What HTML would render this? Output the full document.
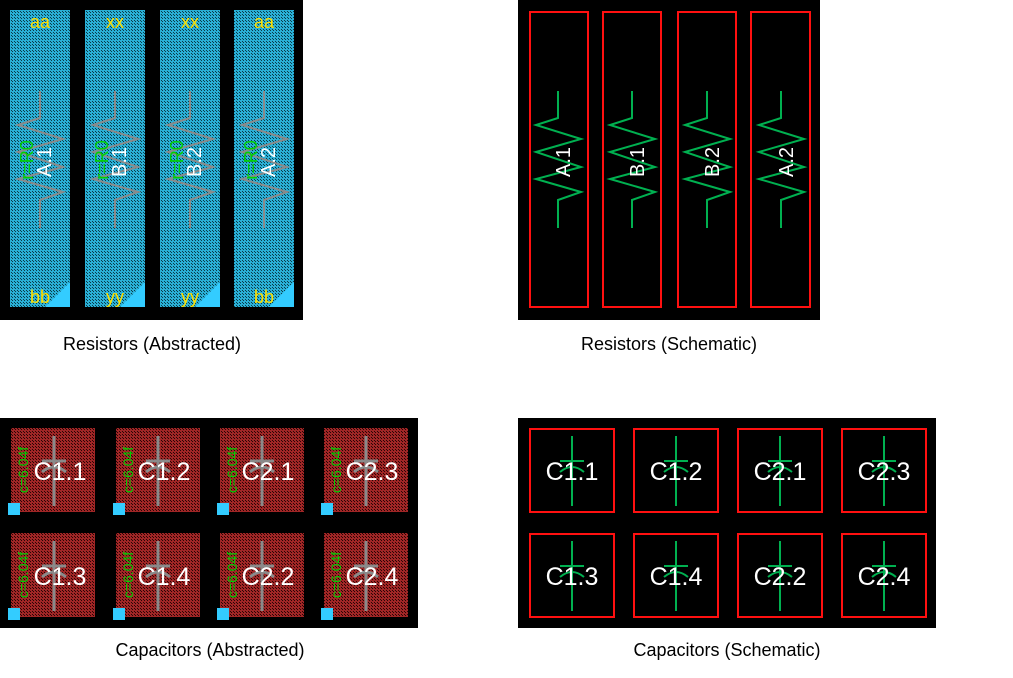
<!DOCTYPE html>
<html><head><meta charset="utf-8"><style>
html,body{margin:0;padding:0;background:#fff;width:1013px;height:678px;overflow:hidden}
svg{display:block}
.lbl{font-family:"Liberation Sans",sans-serif;font-size:18px;fill:#000}
.w{font-family:"Liberation Sans",sans-serif;fill:#fff}
.y{font-family:"Liberation Sans",sans-serif;fill:#ffe000}
.g{font-family:"Liberation Sans",sans-serif;fill:#00d000}
</style></head><body>
<svg width="1013" height="678" viewBox="0 0 1013 678" xmlns="http://www.w3.org/2000/svg">
<defs>
<pattern id="pb" width="3" height="3" patternUnits="userSpaceOnUse"><rect width="3" height="3" fill="#2ab0d6"/><rect width="1" height="1" fill="#0a3c4a"/><rect x="2" y="2" width="1" height="1" fill="#0a3c4a"/></pattern>
<pattern id="pr" width="3" height="3" patternUnits="userSpaceOnUse"><rect width="3" height="3" fill="#a02626"/><rect width="1" height="1" fill="#2a0505"/><rect x="2" y="2" width="1" height="1" fill="#2a0505"/></pattern>
<polyline id="zz" points="0,91 0,118 -22,125 23,139 -22,152 23,167 -22,179 23,192 0,200 0,228" fill="none" stroke-width="2"/>
</defs>
<rect width="1013" height="678" fill="#fff"/>
<!-- Panel 1 -->
<rect x="0" y="0" width="303" height="320" fill="#000"/>
<g>
<rect x="10" y="10" width="60" height="297" fill="url(#pb)"/>
<rect x="85" y="10" width="60" height="297" fill="url(#pb)"/>
<rect x="160" y="10" width="60" height="297" fill="url(#pb)"/>
<rect x="234" y="10" width="60" height="297" fill="url(#pb)"/>
<g stroke="#8a8a8a" stroke-width="3"><use href="#zz" x="40"/><use href="#zz" x="115"/><use href="#zz" x="190"/><use href="#zz" x="264"/></g>
<polygon points="70,282 70,307 45,307" fill="#33ccff"/>
<polygon points="145,282 145,307 120,307" fill="#33ccff"/>
<polygon points="220,282 220,307 195,307" fill="#33ccff"/>
<polygon points="294,282 294,307 269,307" fill="#33ccff"/>
<text class="y" x="40" y="28" font-size="18" text-anchor="middle">aa</text>
<text class="y" x="115" y="28" font-size="18" text-anchor="middle">xx</text>
<text class="y" x="190" y="28" font-size="18" text-anchor="middle">xx</text>
<text class="y" x="264" y="28" font-size="18" text-anchor="middle">aa</text>
<text class="y" x="40" y="303" font-size="18" text-anchor="middle">bb</text>
<text class="y" x="115" y="303" font-size="18" text-anchor="middle">yy</text>
<text class="y" x="190" y="303" font-size="18" text-anchor="middle">yy</text>
<text class="y" x="264" y="303" font-size="18" text-anchor="middle">bb</text>
<text class="g" font-size="18" transform="translate(33,160) rotate(-90)" text-anchor="middle">r=R0</text>
<text class="g" font-size="18" transform="translate(108,160) rotate(-90)" text-anchor="middle">r=R0</text>
<text class="g" font-size="18" transform="translate(183,160) rotate(-90)" text-anchor="middle">r=R0</text>
<text class="g" font-size="18" transform="translate(257,160) rotate(-90)" text-anchor="middle">r=R0</text>
<text class="w" font-size="20" transform="translate(51,162) rotate(-90)" text-anchor="middle">A.1</text>
<text class="w" font-size="20" transform="translate(126,162) rotate(-90)" text-anchor="middle">B.1</text>
<text class="w" font-size="20" transform="translate(201,162) rotate(-90)" text-anchor="middle">B.2</text>
<text class="w" font-size="20" transform="translate(275,162) rotate(-90)" text-anchor="middle">A.2</text>
</g>
<!-- Panel 2 -->
<rect x="518" y="0" width="302" height="320" fill="#000"/>
<g fill="none" stroke="#ff1010" stroke-width="2">
<rect x="530" y="12" width="58" height="295"/><rect x="603" y="12" width="58" height="295"/><rect x="678" y="12" width="58" height="295"/><rect x="751" y="12" width="59" height="295"/>
</g>
<g stroke="#00b050"><use href="#zz" x="558"/><use href="#zz" x="632"/><use href="#zz" x="707"/><use href="#zz" x="781"/></g>
<text class="w" font-size="20" transform="translate(570,162) rotate(-90)" text-anchor="middle">A.1</text>
<text class="w" font-size="20" transform="translate(644,162) rotate(-90)" text-anchor="middle">B.1</text>
<text class="w" font-size="20" transform="translate(719,162) rotate(-90)" text-anchor="middle">B.2</text>
<text class="w" font-size="20" transform="translate(793,162) rotate(-90)" text-anchor="middle">A.2</text>
<text class="lbl" x="152" y="350" text-anchor="middle">Resistors (Abstracted)</text>
<text class="lbl" x="669" y="350" text-anchor="middle">Resistors (Schematic)</text>
<!-- Panel 3 -->
<rect x="0" y="418" width="418" height="210" fill="#000"/>
<g fill="url(#pr)">
<rect x="11" y="428" width="84" height="84"/><rect x="116" y="428" width="84" height="84"/><rect x="220" y="428" width="84" height="84"/><rect x="324" y="428" width="84" height="84"/>
<rect x="11" y="533" width="84" height="84"/><rect x="116" y="533" width="84" height="84"/><rect x="220" y="533" width="84" height="84"/><rect x="324" y="533" width="84" height="84"/>
</g>
<g stroke="#8a8a8a" stroke-width="3" fill="none">
<path d="M54,436v70M42,461h24M42,472q12,-10 24,0"/>
<path d="M158,436v70M146,461h24M146,472q12,-10 24,0"/>
<path d="M262,436v70M250,461h24M250,472q12,-10 24,0"/>
<path d="M366,436v70M354,461h24M354,472q12,-10 24,0"/>
<path d="M54,541v70M42,566h24M42,577q12,-10 24,0"/>
<path d="M158,541v70M146,566h24M146,577q12,-10 24,0"/>
<path d="M262,541v70M250,566h24M250,577q12,-10 24,0"/>
<path d="M366,541v70M354,566h24M354,577q12,-10 24,0"/>
</g>
<g fill="#33ccff"><rect x="8" y="503" width="12" height="12"/><rect x="113" y="503" width="12" height="12"/><rect x="217" y="503" width="12" height="12"/><rect x="321" y="503" width="12" height="12"/>
<rect x="8" y="608" width="12" height="12"/><rect x="113" y="608" width="12" height="12"/><rect x="217" y="608" width="12" height="12"/><rect x="321" y="608" width="12" height="12"/></g>
<g class="g" font-size="14" text-anchor="middle">
<text transform="translate(28,470) rotate(-90)">c=6.04f</text><text transform="translate(133,470) rotate(-90)">c=6.04f</text><text transform="translate(237,470) rotate(-90)">c=6.04f</text><text transform="translate(341,470) rotate(-90)">c=6.04f</text>
<text transform="translate(28,575) rotate(-90)">c=6.04f</text><text transform="translate(133,575) rotate(-90)">c=6.04f</text><text transform="translate(237,575) rotate(-90)">c=6.04f</text><text transform="translate(341,575) rotate(-90)">c=6.04f</text>
</g>
<g class="w" font-size="25" text-anchor="middle">
<text x="60" y="480">C1.1</text><text x="164" y="480">C1.2</text><text x="268" y="480">C2.1</text><text x="372" y="480">C2.3</text>
<text x="60" y="585">C1.3</text><text x="164" y="585">C1.4</text><text x="268" y="585">C2.2</text><text x="372" y="585">C2.4</text>
</g>
<!-- Panel 4 -->
<rect x="518" y="418" width="418" height="210" fill="#000"/>
<g fill="none" stroke="#ff1010" stroke-width="2">
<rect x="530" y="429" width="84" height="83"/><rect x="634" y="429" width="84" height="83"/><rect x="738" y="429" width="84" height="83"/><rect x="842" y="429" width="84" height="83"/>
<rect x="530" y="534" width="84" height="83"/><rect x="634" y="534" width="84" height="83"/><rect x="738" y="534" width="84" height="83"/><rect x="842" y="534" width="84" height="83"/>
</g>
<g stroke="#00b050" stroke-width="2" fill="none">
<path d="M572,436v70M560,461h24M560,472q12,-10 24,0"/>
<path d="M676,436v70M664,461h24M664,472q12,-10 24,0"/>
<path d="M780,436v70M768,461h24M768,472q12,-10 24,0"/>
<path d="M884,436v70M872,461h24M872,472q12,-10 24,0"/>
<path d="M572,541v70M560,566h24M560,577q12,-10 24,0"/>
<path d="M676,541v70M664,566h24M664,577q12,-10 24,0"/>
<path d="M780,541v70M768,566h24M768,577q12,-10 24,0"/>
<path d="M884,541v70M872,566h24M872,577q12,-10 24,0"/>
</g>
<g class="w" font-size="25" text-anchor="middle">
<text x="572" y="480">C1.1</text><text x="676" y="480">C1.2</text><text x="780" y="480">C2.1</text><text x="884" y="480">C2.3</text>
<text x="572" y="585">C1.3</text><text x="676" y="585">C1.4</text><text x="780" y="585">C2.2</text><text x="884" y="585">C2.4</text>
</g>
<text class="lbl" x="210" y="656" text-anchor="middle">Capacitors (Abstracted)</text>
<text class="lbl" x="727" y="656" text-anchor="middle">Capacitors (Schematic)</text>
</svg>
</body></html>
